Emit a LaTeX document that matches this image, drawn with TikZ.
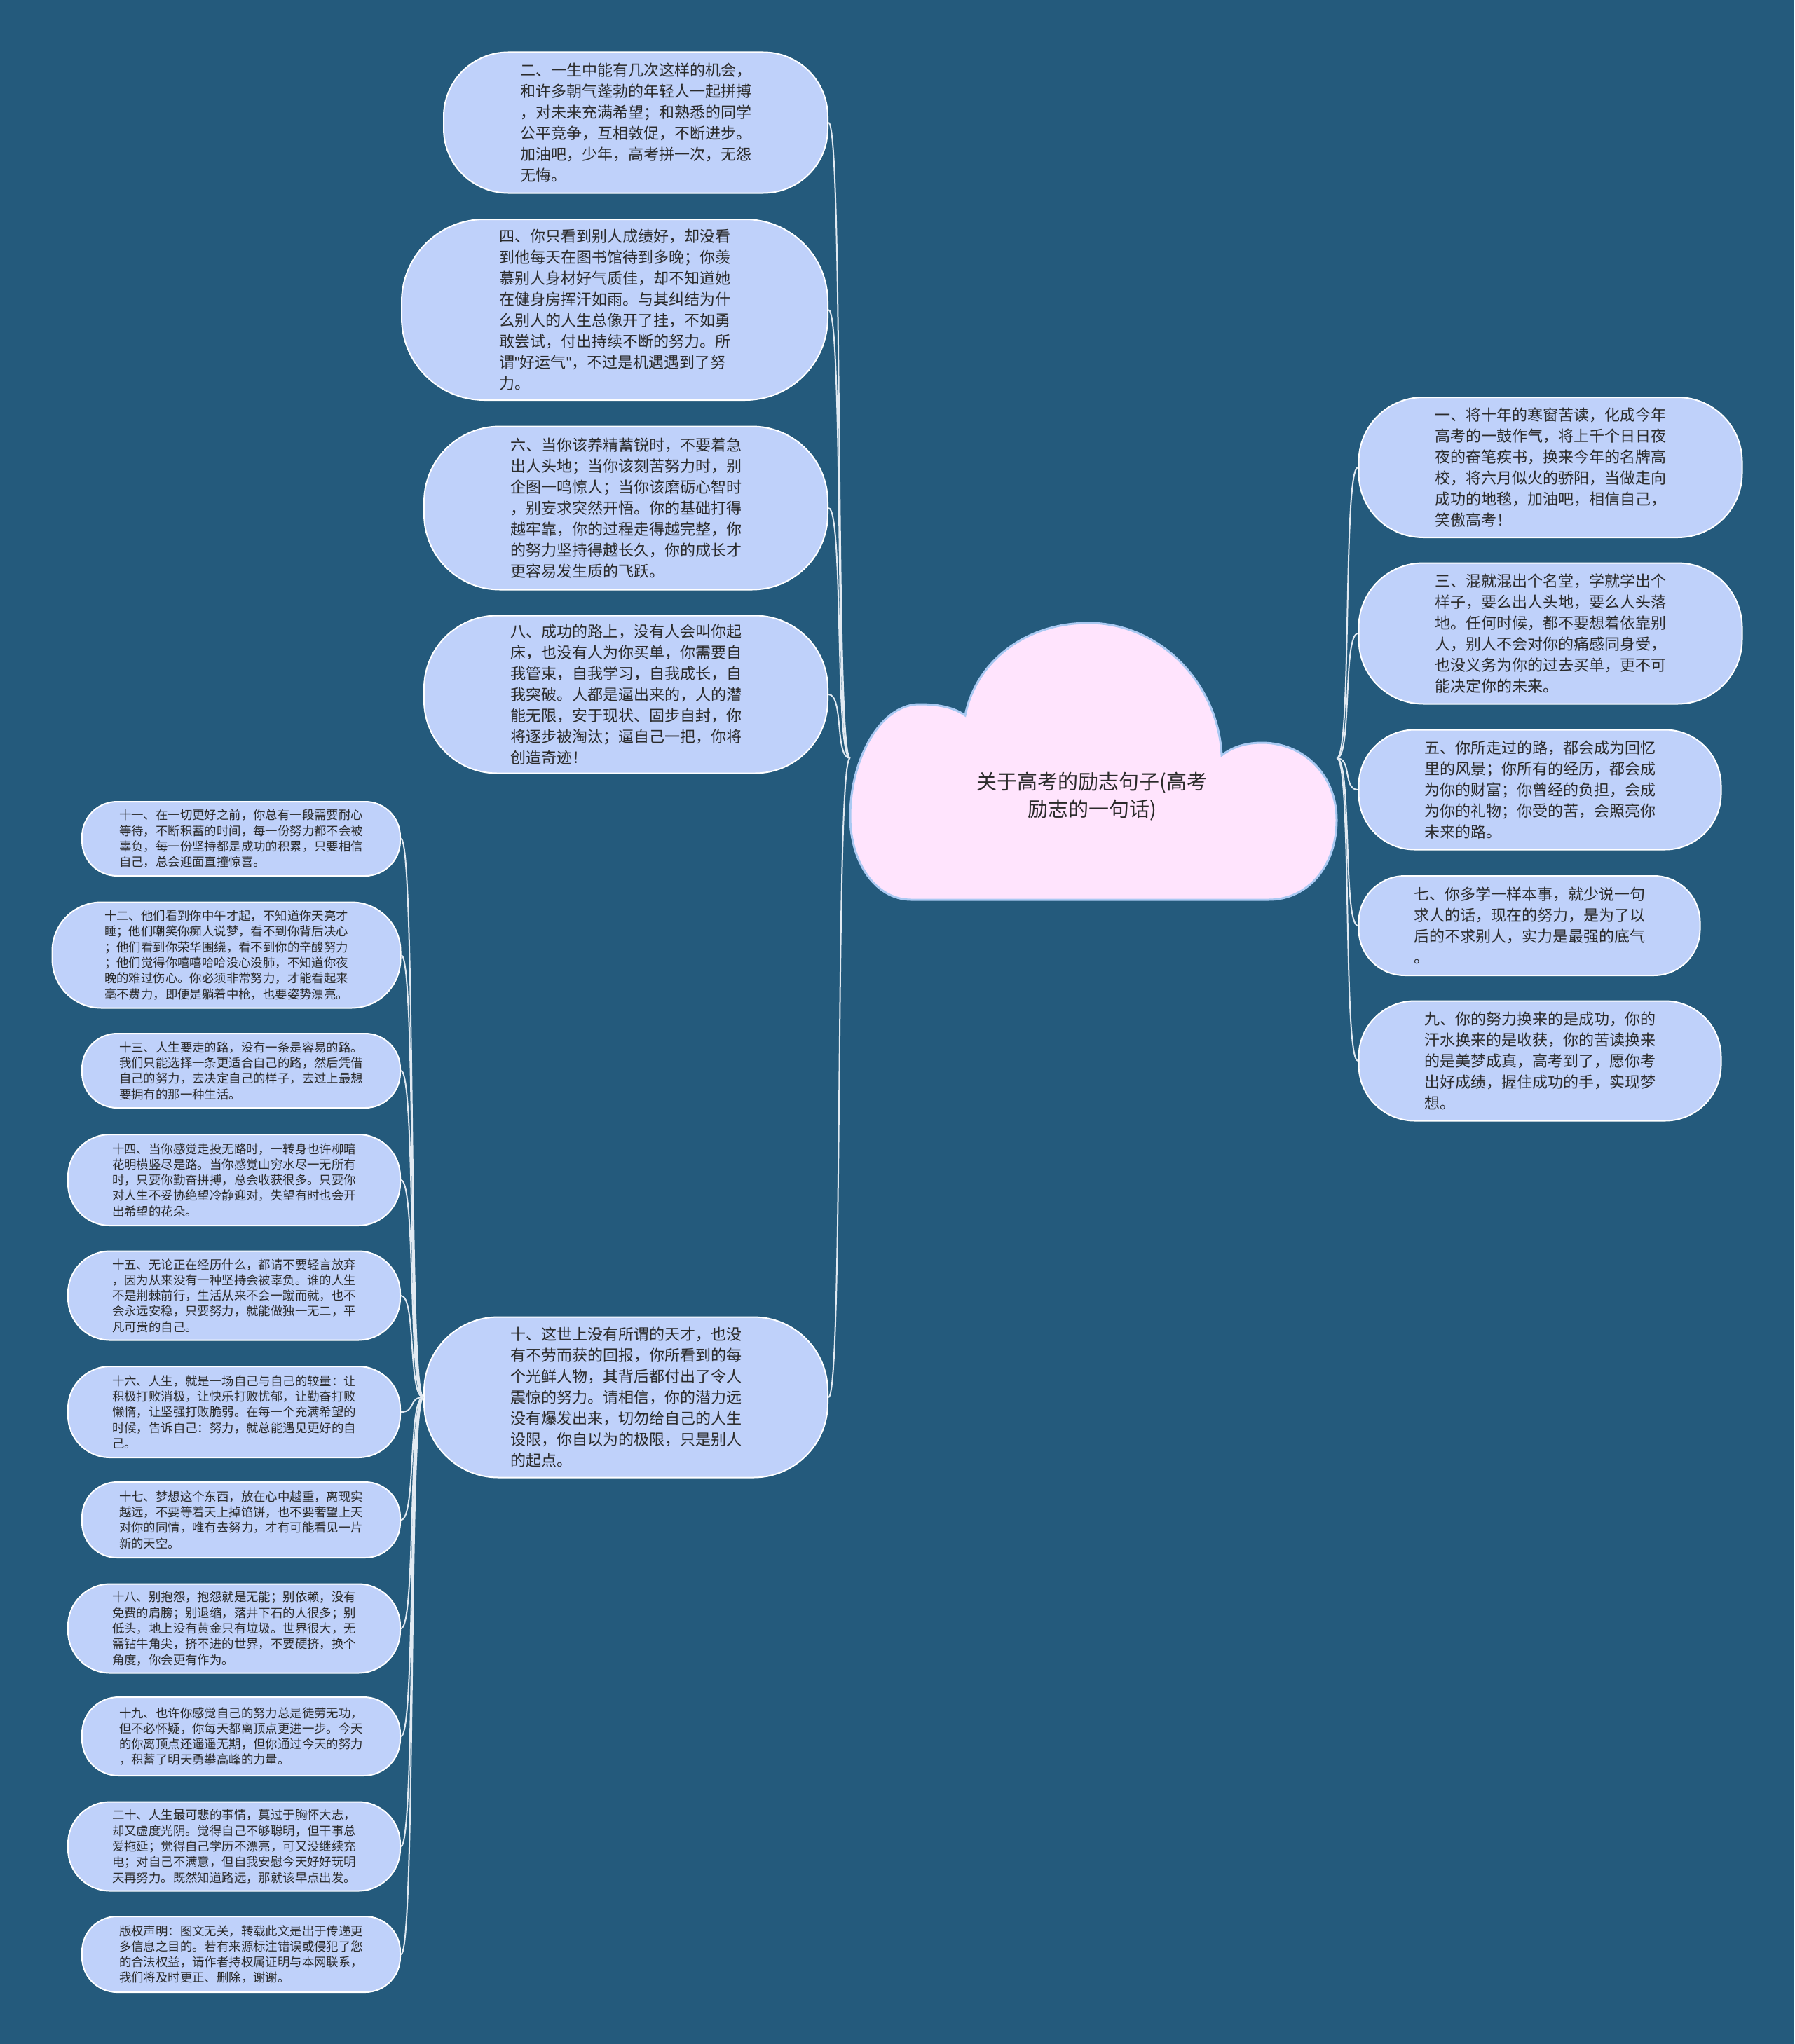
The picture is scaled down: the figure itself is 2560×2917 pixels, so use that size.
\documentclass[tikz,border=0pt]{standalone}
\usepackage{fontspec}
\setmainfont{Noto Sans CJK SC}
\newfontfamily\latinf{Liberation Sans}
\definecolor{bg}{HTML}{245A7C}
\definecolor{leaffill}{HTML}{BFD1FA}
\definecolor{txt}{HTML}{2B2B2B}
\definecolor{connc}{HTML}{E2EAF2}
\definecolor{cloudfill}{HTML}{FFE4FD}
\definecolor{cloudline}{HTML}{A9C9F2}
\begin{document}
\begin{tikzpicture}[x=1pt,y=-1pt,
  leaf/.style n args={3}{draw=white, line width=2pt, fill=leaffill, text=txt, align=left, inner sep=0pt, minimum width=#1, minimum height=#2, rounded corners=#3},
  big/.style={font=\fontsize{22}{30}\selectfont},
  small/.style={font=\fontsize{17.4}{22.3}\selectfont},
  conn/.style={draw=connc, line width=2pt}]
\useasboundingbox (0,0) rectangle (2560,2917);
\fill[bg] (0,0) rectangle (2560,2917);

% central cloud
\draw[fill=cloudfill, draw=cloudline, line width=3pt]
  (1300,1284) .. controls (1250,1284) and (1213,1232) .. (1213,1165)
  .. controls (1213,1085) and (1255,1005) .. (1312,1005)
  .. controls (1343,1005) and (1363,1011) .. (1377,1021)
  .. controls (1392,945) and (1462,889) .. (1553,889)
  .. controls (1655,889) and (1738,975) .. (1743,1078)
  .. controls (1758,1066) and (1778,1060) .. (1800,1060)
  .. controls (1862,1060) and (1907,1108) .. (1907,1170)
  .. controls (1907,1236) and (1866,1284) .. (1810,1284)
  -- cycle;
\node[inner sep=0pt, minimum width=694pt, minimum height=390pt] (root) at (1560,1082) {};
\node[font=\fontsize{29}{39}\selectfont, text=txt, align=center] (title) at (1558,1137) {关于高考的励志句子(高考\\励志的一句话)};

% left big nodes
\node[leaf={548pt}{201pt}{92pt}, big] (n2) at (907,175) {二、一生中能有几次这样的机会，\\和许多朝气蓬勃的年轻人一起拼搏\\，对未来充满希望；和熟悉的同学\\公平竞争，互相敦促，不断进步。\\加油吧，少年，高考拼一次，无怨\\无悔。};
\node[leaf={608pt}{258pt}{118pt}, big] (n4) at (877,442) {四、你只看到别人成绩好，却没看\\到他每天在图书馆待到多晚；你羡\\慕别人身材好气质佳，却不知道她\\在健身房挥汗如雨。与其纠结为什\\么别人的人生总像开了挂，不如勇\\敢尝试，付出持续不断的努力。所\\谓{\latinf"}好运气{\latinf"}，不过是机遇遇到了努\\力。};
\node[leaf={576pt}{233pt}{108pt}, big] (n6) at (893,725) {六、当你该养精蓄锐时，不要着急\\出人头地；当你该刻苦努力时，别\\企图一鸣惊人；当你该磨砺心智时\\，别妄求突然开悟。你的基础打得\\越牢靠，你的过程走得越完整，你\\的努力坚持得越长久，你的成长才\\更容易发生质的飞跃。};
\node[leaf={576pt}{225pt}{104pt}, big] (n8) at (893,991) {八、成功的路上，没有人会叫你起\\床，也没有人为你买单，你需要自\\我管束，自我学习，自我成长，自\\我突破。人都是逼出来的，人的潜\\能无限，安于现状、固步自封，你\\将逐步被淘汰；逼自己一把，你将\\创造奇迹！};
\node[leaf={576pt}{229pt}{106pt}, big] (n10) at (893,1994) {十、这世上没有所谓的天才，也没\\有不劳而获的回报，你所看到的每\\个光鲜人物，其背后都付出了令人\\震惊的努力。请相信，你的潜力远\\没有爆发出来，切勿给自己的人生\\设限，你自以为的极限，只是别人\\的起点。};

% right nodes
\node[leaf={547pt}{200pt}{92pt}, big] (n1) at (2212,667) {一、将十年的寒窗苦读，化成今年\\高考的一鼓作气，将上千个日日夜\\夜的奋笔疾书，换来今年的名牌高\\校，将六月似火的骄阳，当做走向\\成功的地毯，加油吧，相信自己，\\笑傲高考！};
\node[leaf={547pt}{201pt}{92pt}, big] (n3) at (2212,904) {三、混就混出个名堂，学就学出个\\样子，要么出人头地，要么人头落\\地。任何时候，都不要想着依靠别\\人，别人不会对你的痛感同身受，\\也没义务为你的过去买单，更不可\\能决定你的未来。};
\node[leaf={517pt}{171pt}{80pt}, big] (n5) at (2197,1127) {五、你所走过的路，都会成为回忆\\里的风景；你所有的经历，都会成\\为你的财富；你曾经的负担，会成\\为你的礼物；你受的苦，会照亮你\\未来的路。};
\node[leaf={487pt}{142pt}{66pt}, big] (n7) at (2182,1321) {七、你多学一样本事，就少说一句\\求人的话，现在的努力，是为了以\\后的不求别人，实力是最强的底气\\。};
\node[leaf={517pt}{171pt}{80pt}, big] (n9) at (2197,1514) {九、你的努力换来的是成功，你的\\汗水换来的是收获，你的苦读换来\\的是美梦成真，高考到了，愿你考\\出好成绩，握住成功的手，实现梦\\想。};

% left small nodes
\node[leaf={454pt}{106pt}{50pt}, small] (n11) at (344,1197) {十一、在一切更好之前，你总有一段需要耐心\\等待，不断积蓄的时间，每一份努力都不会被\\辜负，每一份坚持都是成功的积累，只要相信\\自己，总会迎面直撞惊喜。};
\node[leaf={497pt}{151pt}{70pt}, small] (n12) at (323,1363) {十二、他们看到你中午才起，不知道你天亮才\\睡；他们嘲笑你痴人说梦，看不到你背后决心\\；他们看到你荣华围绕，看不到你的辛酸努力\\；他们觉得你嘻嘻哈哈没心没肺，不知道你夜\\晚的难过伤心。你必须非常努力，才能看起来\\毫不费力，即便是躺着中枪，也要姿势漂亮。};
\node[leaf={454pt}{106pt}{50pt}, small] (n13) at (344,1528) {十三、人生要走的路，没有一条是容易的路。\\我们只能选择一条更适合自己的路，然后凭借\\自己的努力，去决定自己的样子，去过上最想\\要拥有的那一种生活。};
\node[leaf={474pt}{130pt}{60pt}, small] (n14) at (334,1684) {十四、当你感觉走投无路时，一转身也许柳暗\\花明横竖尽是路。当你感觉山穷水尽一无所有\\时，只要你勤奋拼搏，总会收获很多。只要你\\对人生不妥协绝望冷静迎对，失望有时也会开\\出希望的花朵。};
\node[leaf={474pt}{127pt}{60pt}, small] (n15) at (334,1849) {十五、无论正在经历什么，都请不要轻言放弃\\，因为从来没有一种坚持会被辜负。谁的人生\\不是荆棘前行，生活从来不会一蹴而就，也不\\会永远安稳，只要努力，就能做独一无二，平\\凡可贵的自己。};
\node[leaf={474pt}{130pt}{60pt}, small] (n16) at (334,2015) {十六、人生，就是一场自己与自己的较量：让\\积极打败消极，让快乐打败忧郁，让勤奋打败\\懒惰，让坚强打败脆弱。在每一个充满希望的\\时候，告诉自己：努力，就总能遇见更好的自\\己。};
\node[leaf={454pt}{108pt}{50pt}, small] (n17) at (344,2169) {十七、梦想这个东西，放在心中越重，离现实\\越远，不要等着天上掉馅饼，也不要奢望上天\\对你的同情，唯有去努力，才有可能看见一片\\新的天空。};
\node[leaf={474pt}{127pt}{60pt}, small] (n18) at (334,2324) {十八、别抱怨，抱怨就是无能；别依赖，没有\\免费的肩膀；别退缩，落井下石的人很多；别\\低头，地上没有黄金只有垃圾。世界很大，无\\需钻牛角尖，挤不进的世界，不要硬挤，换个\\角度，你会更有作为。};
\node[leaf={454pt}{112pt}{52pt}, small] (n19) at (344,2478) {十九、也许你感觉自己的努力总是徒劳无功，\\但不必怀疑，你每天都离顶点更进一步。今天\\的你离顶点还遥遥无期，但你通过今天的努力\\，积蓄了明天勇攀高峰的力量。};
\node[leaf={474pt}{127pt}{60pt}, small] (n20) at (334,2635) {二十、人生最可悲的事情，莫过于胸怀大志，\\却又虚度光阴。觉得自己不够聪明，但干事总\\爱拖延；觉得自己学历不漂亮，可又没继续充\\电；对自己不满意，但自我安慰今天好好玩明\\天再努力。既然知道路远，那就该早点出发。};
\node[leaf={454pt}{108pt}{50pt}, small] (n21) at (344,2789) {版权声明：图文无关，转载此文是出于传递更\\多信息之目的。若有来源标注错误或侵犯了您\\的合法权益，请作者持权属证明与本网联系，\\我们将及时更正、删除，谢谢。};

% connectors
\foreach \n in {n2,n4,n6,n8,n10}
  \draw[conn] (root.west) .. controls +(-22,0) and +(22,0) .. (\n.east);
\foreach \n in {n1,n3,n5,n7,n9}
  \draw[conn] (root.east) .. controls +(22,0) and +(-22,0) .. (\n.west);
\foreach \n in {n11,n12,n13,n14,n15,n16,n17,n18,n19,n20,n21}
  \draw[conn] (n10.west) .. controls +(-22,0) and +(22,0) .. (\n.east);
\end{tikzpicture}
\end{document}
